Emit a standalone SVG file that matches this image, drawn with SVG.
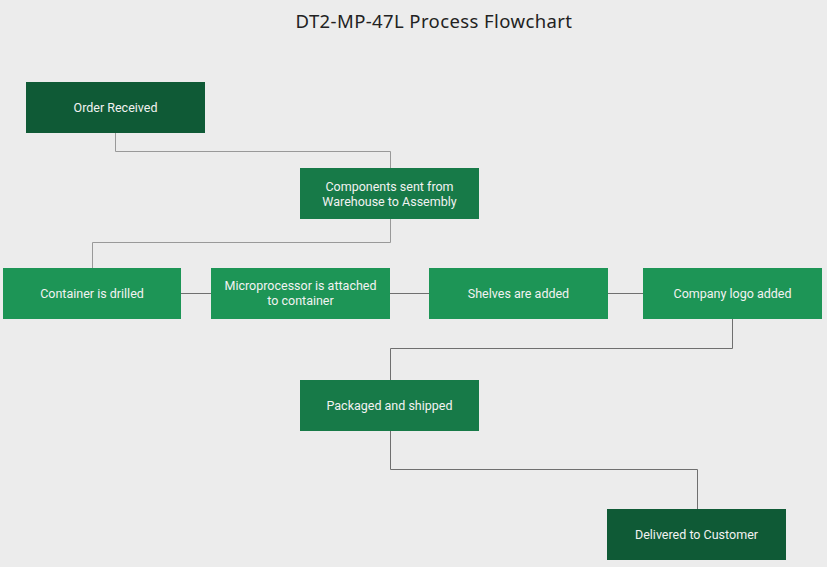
<svg xmlns="http://www.w3.org/2000/svg" width="827" height="567" viewBox="0 0 827 567">
<style>
.bg{fill:#ececec}
.t{font-family:Roboto,"Liberation Sans",sans-serif;font-size:12.5px;fill:#f2f2f2;text-anchor:middle}
.title{font-family:"Noto Sans","Liberation Sans",sans-serif;font-size:18.5px;letter-spacing:0.4px;fill:#222;text-anchor:middle}
.dark{fill:#0f5a36}
.mid{fill:#177a48}
.bri{fill:#1d9556}
.c{fill:none;stroke:#999;stroke-width:1}
.c2{fill:none;stroke:#6f6f6f;stroke-width:1}
</style>
<rect class="bg" width="827" height="567"/>
<text class="title" x="434" y="28">DT2-MP-47L Process Flowchart</text>
<g id="connectors">
<path class="c" d="M115.5 133 V151.5 H390.5 V168"/>
<path class="c" d="M390.5 219 V242.5 H92.5 V268"/>
<path class="c2" d="M181 293.5 H211"/>
<path class="c2" d="M390 293.5 H429"/>
<path class="c2" d="M608 293.5 H643"/>
<path class="c2" d="M732.5 319 V348.5 H390.5 V380"/>
<path class="c2" d="M390.5 431 V469.5 H697.5 V509"/>
</g>
<g id="n1"><rect class="dark" x="26" y="82" width="179" height="51"/><text class="t" x="115.5" y="112">Order Received</text></g>
<g id="n2"><rect class="mid" x="300" y="168" width="179" height="51"/><text class="t" x="389.5" y="191">Components sent from</text><text class="t" x="389.5" y="206">Warehouse to Assembly</text></g>
<g id="n3"><rect class="bri" x="3" y="268" width="178" height="51"/><text class="t" x="92" y="298">Container is drilled</text></g>
<g id="n4"><rect class="bri" x="211" y="268" width="179" height="51"/><text class="t" x="300.5" y="290">Microprocessor is attached</text><text class="t" x="300.5" y="305">to container</text></g>
<g id="n5"><rect class="bri" x="429" y="268" width="179" height="51"/><text class="t" x="518.5" y="298">Shelves are added</text></g>
<g id="n6"><rect class="bri" x="643" y="268" width="179" height="51"/><text class="t" x="732.5" y="298">Company logo added</text></g>
<g id="n7"><rect class="mid" x="300" y="380" width="179" height="51"/><text class="t" x="389.5" y="410">Packaged and shipped</text></g>
<g id="n8"><rect class="dark" x="607" y="509" width="179" height="51"/><text class="t" x="696.5" y="539">Delivered to Customer</text></g>
</svg>
